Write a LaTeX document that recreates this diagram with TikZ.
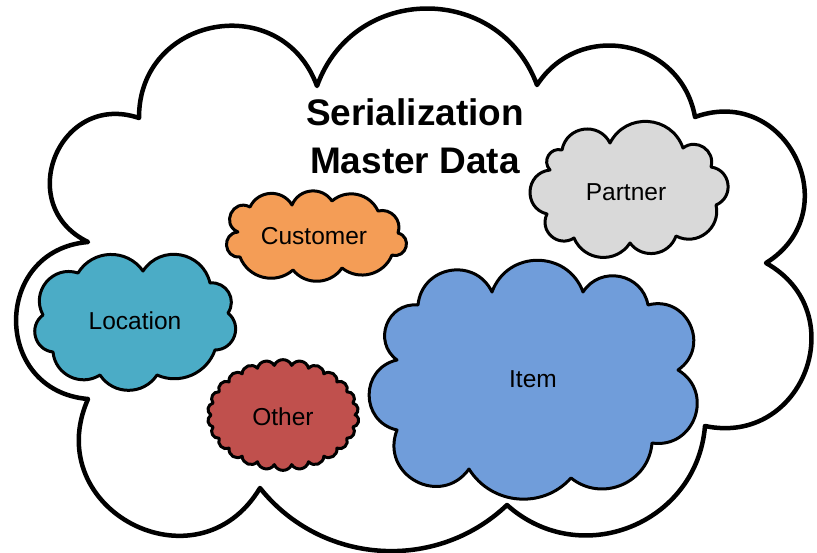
\documentclass[tikz,border=0pt]{standalone}
\usepackage{fontspec}
\setmainfont{Liberation Sans}
\definecolor{custorange}{HTML}{F49D56}
\definecolor{locteal}{HTML}{4BACC6}
\definecolor{otherred}{HTML}{C0504D}
\definecolor{itemblue}{HTML}{709DDA}
\definecolor{partgrey}{HTML}{D9D9D9}
\begin{document}
\begin{tikzpicture}[x=1pt,y=-1pt,line join=round,
  pf/.code={\pgfmathsetmacro\pfang{2*atan(2*#1)}%
    \pgfmathsetmacro\pfloose{0.8514*(1+4*(#1)*(#1))}%
    \edef\pfargs{bend left=\pfang,looseness=\pfloose}%
    \expandafter\tikzset\expandafter{\pfargs}},
  bigline/.style={draw=black,line width=4.5pt},
  smallline/.style={draw=black,line width=3pt},
  lbl/.style={font=\fontsize{24.5}{28}\selectfont,anchor=base,inner sep=0pt}]
\useasboundingbox (0,0) rectangle (817,552);
% big cloud
\draw[bigline,fill=white] (139,118) to[pf=0.42] (317,86) to[pf=0.35] (537,85)
  to[pf=0.34] (695,117) to[pf=0.45] (766,263) to[pf=0.43] (705,426)
  to[pf=0.31] (507,505) to[pf=0.22] (260,488) to[pf=0.47] (88,399)
  to[pf=0.46] (88,242) to[pf=0.47] (139,118) -- cycle;
% partner
\draw[smallline,fill=partgrey] (562,150) to[pf=0.36] (610,143) to[pf=0.33] (683,148)
  to[pf=0.36] (711,167) to[pf=0.38] (716,205) to[pf=0.32] (676,236) to[pf=0.3] (630,243)
  to[pf=0.3] (574,238) to[pf=0.38] (547,214) to[pf=0.42] (550,170) to[pf=0.38] (562,150) -- cycle;
% customer
\draw[smallline,fill=custorange] (250,207) to[pf=0.3] (292,205) to[pf=0.3] (332,201)
  to[pf=0.25] (378,211) to[pf=0.3] (398,233) to[pf=0.5] (392,255) to[pf=0.25] (342,268)
  to[pf=0.25] (293,270) to[pf=0.26] (240,257) to[pf=0.5] (238,232) to[pf=0.52] (250,207) -- cycle;
% location
\draw[smallline,fill=locteal] (43,315) to[pf=0.34] (78,273) to[pf=0.27] (143,271)
  to[pf=0.33] (210,283) to[pf=0.32] (228,313) to[pf=0.35] (215,350) to[pf=0.22] (157,375)
  to[pf=0.27] (100,375) to[pf=0.28] (53,352) to[pf=0.34] (43,315) -- cycle;
% item
\draw[smallline,fill=itemblue] (397,360) to[pf=0.38] (418,305) to[pf=0.38] (492,292)
  to[pf=0.35] (583,292) to[pf=0.34] (648,305) to[pf=0.42] (678,370) to[pf=0.41] (652,443)
  to[pf=0.3] (571,478) to[pf=0.25] (469,469) to[pf=0.44] (397,430) to[pf=0.4] (397,360) -- cycle;
% other
\draw[smallline,fill=otherred] (356,415)
  \foreach \i in {1,...,26} { to[pf=0.33] ({283+72*cos(\i*360/26)},{415+50*sin(\i*360/26)}) } -- cycle;
% labels
\node[anchor=base,inner sep=0pt,align=center,font=\bfseries\fontsize{37}{48}\selectfont] (title) at (415,173) {Serialization\\Master Data};
\node[lbl] (customer) at (314,244) {Customer};
\node[lbl] (location) at (135,329) {Location};
\node[lbl] (partner) at (626,200) {Partner};
\node[lbl] (item) at (533,387) {Item};
\node[lbl] (other) at (283,425) {Other};
\end{tikzpicture}
\end{document}
